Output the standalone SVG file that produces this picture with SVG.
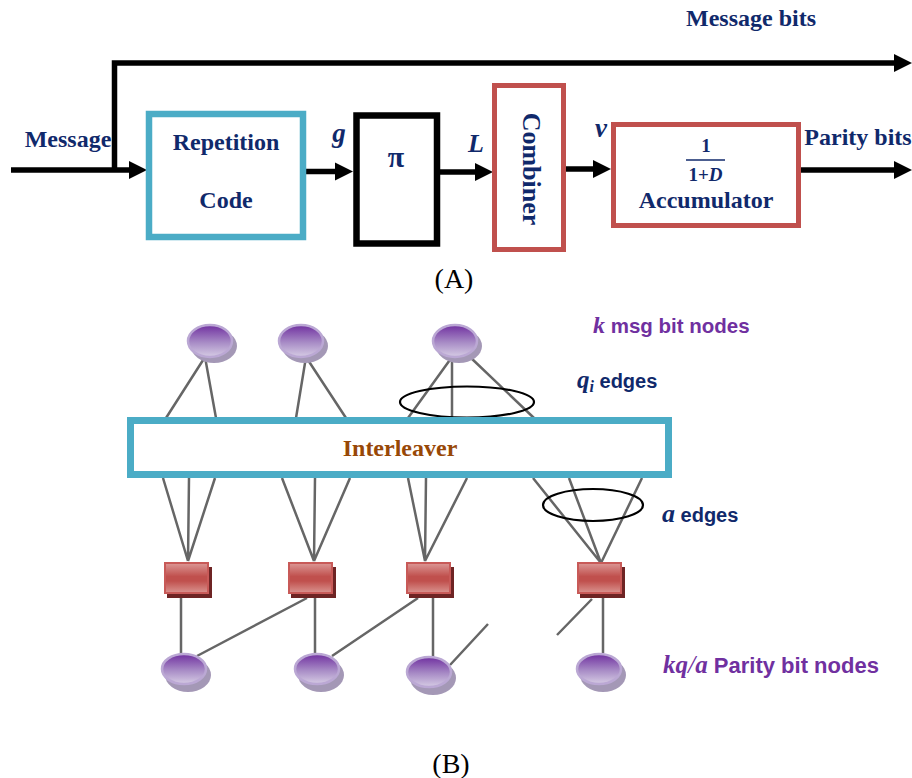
<svg xmlns="http://www.w3.org/2000/svg" width="912" height="778" viewBox="0 0 912 778">
<defs>
<style>
.lbl{font-family:"Liberation Serif","Times New Roman",serif;font-weight:bold;fill:#10296B;}
.sym{font-family:"Liberation Serif","Times New Roman",serif;font-weight:bold;font-style:italic;fill:#10296B;}
.cap{font-family:"Liberation Serif","Times New Roman",serif;font-size:28px;fill:#000;}
.sans{font-family:"Liberation Sans",Arial,sans-serif;font-weight:bold;font-size:20px;}
.math{font-family:"Liberation Serif","Times New Roman",serif;font-style:italic;font-weight:bold;}
.wire{fill:none;stroke:#000;stroke-width:5.5;}
.edge{fill:none;stroke:#666;stroke-width:2.5;}
.ring{fill:none;stroke:#000;stroke-width:2.2;}
.vshadow{fill:#A498B6;}
.vnode{fill:url(#pgrad);stroke:#BBA8D4;stroke-width:2.5;}
.cshadow{fill:#6E2424;}
.cnode{fill:url(#rgrad);stroke:#C85A58;stroke-width:2;}
</style>
<linearGradient id="pgrad" x1="0" y1="0" x2="0" y2="1">
<stop offset="0" stop-color="#7030A0"/>
<stop offset="0.55" stop-color="#A88CC6"/>
<stop offset="1" stop-color="#D6CCE4"/>
</linearGradient>
<linearGradient id="rgrad" x1="0" y1="0" x2="0" y2="1">
<stop offset="0" stop-color="#DC9896"/>
<stop offset="0.45" stop-color="#C0504D"/>
<stop offset="0.6" stop-color="#C0504D"/>
<stop offset="1" stop-color="#DA9490"/>
</linearGradient>
<marker id="ah" viewBox="0 0 18 18" markerUnits="userSpaceOnUse" markerWidth="18" markerHeight="19" refX="1" refY="9" orient="auto">
<path d="M0,0 L18,9 L0,18 z" fill="#000"/>
</marker>
</defs>

<!-- Part A connectors -->
<g id="connectors-a">
<path class="wire" d="M11,170 L130,170" marker-end="url(#ah)"/>
<path class="wire" d="M114.5,170 L114.5,63 L895,63" marker-end="url(#ah)"/>
<path class="wire" d="M306,171.5 L336,171.5" marker-end="url(#ah)"/>
<path class="wire" d="M440,172 L476,172" marker-end="url(#ah)"/>
<path class="wire" d="M566,169 L594,169" marker-end="url(#ah)"/>
<path class="wire" d="M801,170 L895,170" marker-end="url(#ah)"/>
</g>

<g id="repetition">
<rect x="149" y="114" width="154" height="123" fill="#fff" stroke="#4BACC6" stroke-width="6.5"/>
<text class="lbl" x="226" y="150" font-size="24" text-anchor="middle">Repetition</text>
<text class="lbl" x="226" y="208" font-size="24" text-anchor="middle">Code</text>
</g>

<g id="interleaver-pi">
<rect x="356.5" y="115.5" width="80.5" height="128" fill="#fff" stroke="#000" stroke-width="6.5"/>
<text x="396" y="167" font-family="Liberation Serif,Times New Roman,serif" font-weight="bold" font-size="30" fill="#10296B" text-anchor="middle">π</text>
</g>

<g id="combiner">
<rect x="494.5" y="85.5" width="69" height="164" fill="#fff" stroke="#C0504D" stroke-width="5"/>
<text class="lbl" font-size="26" text-anchor="middle" transform="translate(523,169) rotate(90)">Combiner</text>
</g>

<g id="accumulator">
<rect x="613.5" y="124.5" width="185" height="101" fill="#fff" stroke="#C0504D" stroke-width="5"/>
<text class="lbl" x="706" y="152" font-size="19" text-anchor="middle">1</text>
<line x1="686" y1="160" x2="725" y2="160" stroke="#10296B" stroke-width="1.5"/>
<text class="lbl" x="705.5" y="181" font-size="19" text-anchor="middle">1+<tspan font-style="italic">D</tspan></text>
<text class="lbl" x="706" y="208" font-size="24" text-anchor="middle">Accumulator</text>
</g>

<g id="labels-a">
<text class="lbl" x="751" y="26" font-size="24" text-anchor="middle">Message bits</text>
<text class="lbl" x="68" y="147" font-size="24" text-anchor="middle">Message</text>
<text class="lbl" x="858" y="145" font-size="24" text-anchor="middle">Parity bits</text>
<text class="sym" x="339" y="142" font-size="27" text-anchor="middle">g</text>
<text class="sym" x="476" y="152" font-size="26" text-anchor="middle">L</text>
<text class="sym" x="601" y="137" font-size="27" text-anchor="middle">v</text>
<text class="cap" x="454" y="288" text-anchor="middle">(A)</text>
</g>

<!-- Part B connectors -->
<g id="connectors-b">
<path class="edge" d="M205,357 L166,418 M205,357 L216,418"/>
<path class="edge" d="M306,357 L296,418 M306,357 L346,418"/>
<path class="edge" d="M452,357 L408,418 M452,357 L452,418 M470,357 L534,418"/>
<path class="edge" d="M163,478 L188,561 M189,478 L188,561 M215,478 L188,561"/>
<path class="edge" d="M282,478 L314,561 M315,478 L314,561 M350,478 L314,561"/>
<path class="edge" d="M408,478 L425,561 M426,478 L425,561 M467,478 L425,561"/>
<path class="edge" d="M533,478 L601,563 M569,478 L601,563 M642,478 L601,563"/>
<path class="edge" d="M181,596 L181,655 M315,596 L315,655 M433,596 L433,657 M603,596 L603,653"/>
<path class="edge" d="M307,598 L197,656 M418,598 L332,656 M450,665 L488,624 M592,599 L557,635"/>
<ellipse class="ring" cx="467" cy="402" rx="67" ry="15.5"/>
<ellipse class="ring" cx="593" cy="505" rx="50" ry="16"/>
</g>

<g id="interleaver">
<rect x="130.5" y="420.5" width="538" height="54" fill="#fff" stroke="#4BACC6" stroke-width="7"/>
<text x="400" y="456" font-family="Liberation Serif,Times New Roman,serif" font-weight="bold" font-size="24" fill="#984807" text-anchor="middle">Interleaver</text>
</g>

<g id="msg-node-1"><ellipse class="vshadow" cx="214" cy="346" rx="23" ry="17"/><ellipse class="vnode" cx="210" cy="341" rx="22" ry="16"/></g>
<g id="msg-node-2"><ellipse class="vshadow" cx="305" cy="346" rx="23" ry="17"/><ellipse class="vnode" cx="301" cy="341" rx="22" ry="16"/></g>
<g id="msg-node-3"><ellipse class="vshadow" cx="459" cy="346" rx="23" ry="17"/><ellipse class="vnode" cx="455" cy="341" rx="22" ry="16"/></g>

<g id="check-1"><rect class="cshadow" x="167" y="567" width="45" height="31"/><rect class="cnode" x="165" y="563" width="43" height="30"/></g>
<g id="check-2"><rect class="cshadow" x="291" y="567" width="45" height="31"/><rect class="cnode" x="289" y="563" width="43" height="30"/></g>
<g id="check-3"><rect class="cshadow" x="409" y="567" width="45" height="31"/><rect class="cnode" x="407" y="563" width="43" height="30"/></g>
<g id="check-4"><rect class="cshadow" x="580" y="567" width="45" height="31"/><rect class="cnode" x="578" y="563" width="43" height="30"/></g>

<g id="parity-node-1"><ellipse class="vshadow" cx="188" cy="675" rx="23" ry="17"/><ellipse class="vnode" cx="184" cy="669" rx="22" ry="15"/></g>
<g id="parity-node-2"><ellipse class="vshadow" cx="321" cy="675" rx="23" ry="17"/><ellipse class="vnode" cx="317" cy="669" rx="22" ry="15"/></g>
<g id="parity-node-3"><ellipse class="vshadow" cx="433" cy="678" rx="23" ry="17"/><ellipse class="vnode" cx="429" cy="672" rx="22" ry="15"/></g>
<g id="parity-node-4"><ellipse class="vshadow" cx="603" cy="675" rx="23" ry="17"/><ellipse class="vnode" cx="599" cy="669" rx="22" ry="15"/></g>

<g id="labels-b">
<text class="sans" x="593" y="333" fill="#7030A0"><tspan class="math" font-size="24">k</tspan><tspan font-size="20.5"> msg bit nodes</tspan></text>
<text class="sans" x="577" y="388" fill="#10296B"><tspan class="math" font-size="25">q</tspan><tspan class="math" font-size="16" dy="4">i</tspan><tspan dy="-4"> edges</tspan></text>
<text class="sans" x="662" y="522" fill="#10296B"><tspan class="math" font-size="26">a</tspan> edges</text>
<text class="sans" x="663" y="673" fill="#7030A0"><tspan class="math" font-size="25">kq</tspan><tspan font-family="Liberation Serif,serif" font-style="italic" font-weight="normal" font-size="26">/</tspan><tspan class="math" font-size="25">a</tspan><tspan font-size="22"> Parity bit nodes</tspan></text>
<text class="cap" x="451" y="773" text-anchor="middle">(B)</text>
</g>
</svg>
